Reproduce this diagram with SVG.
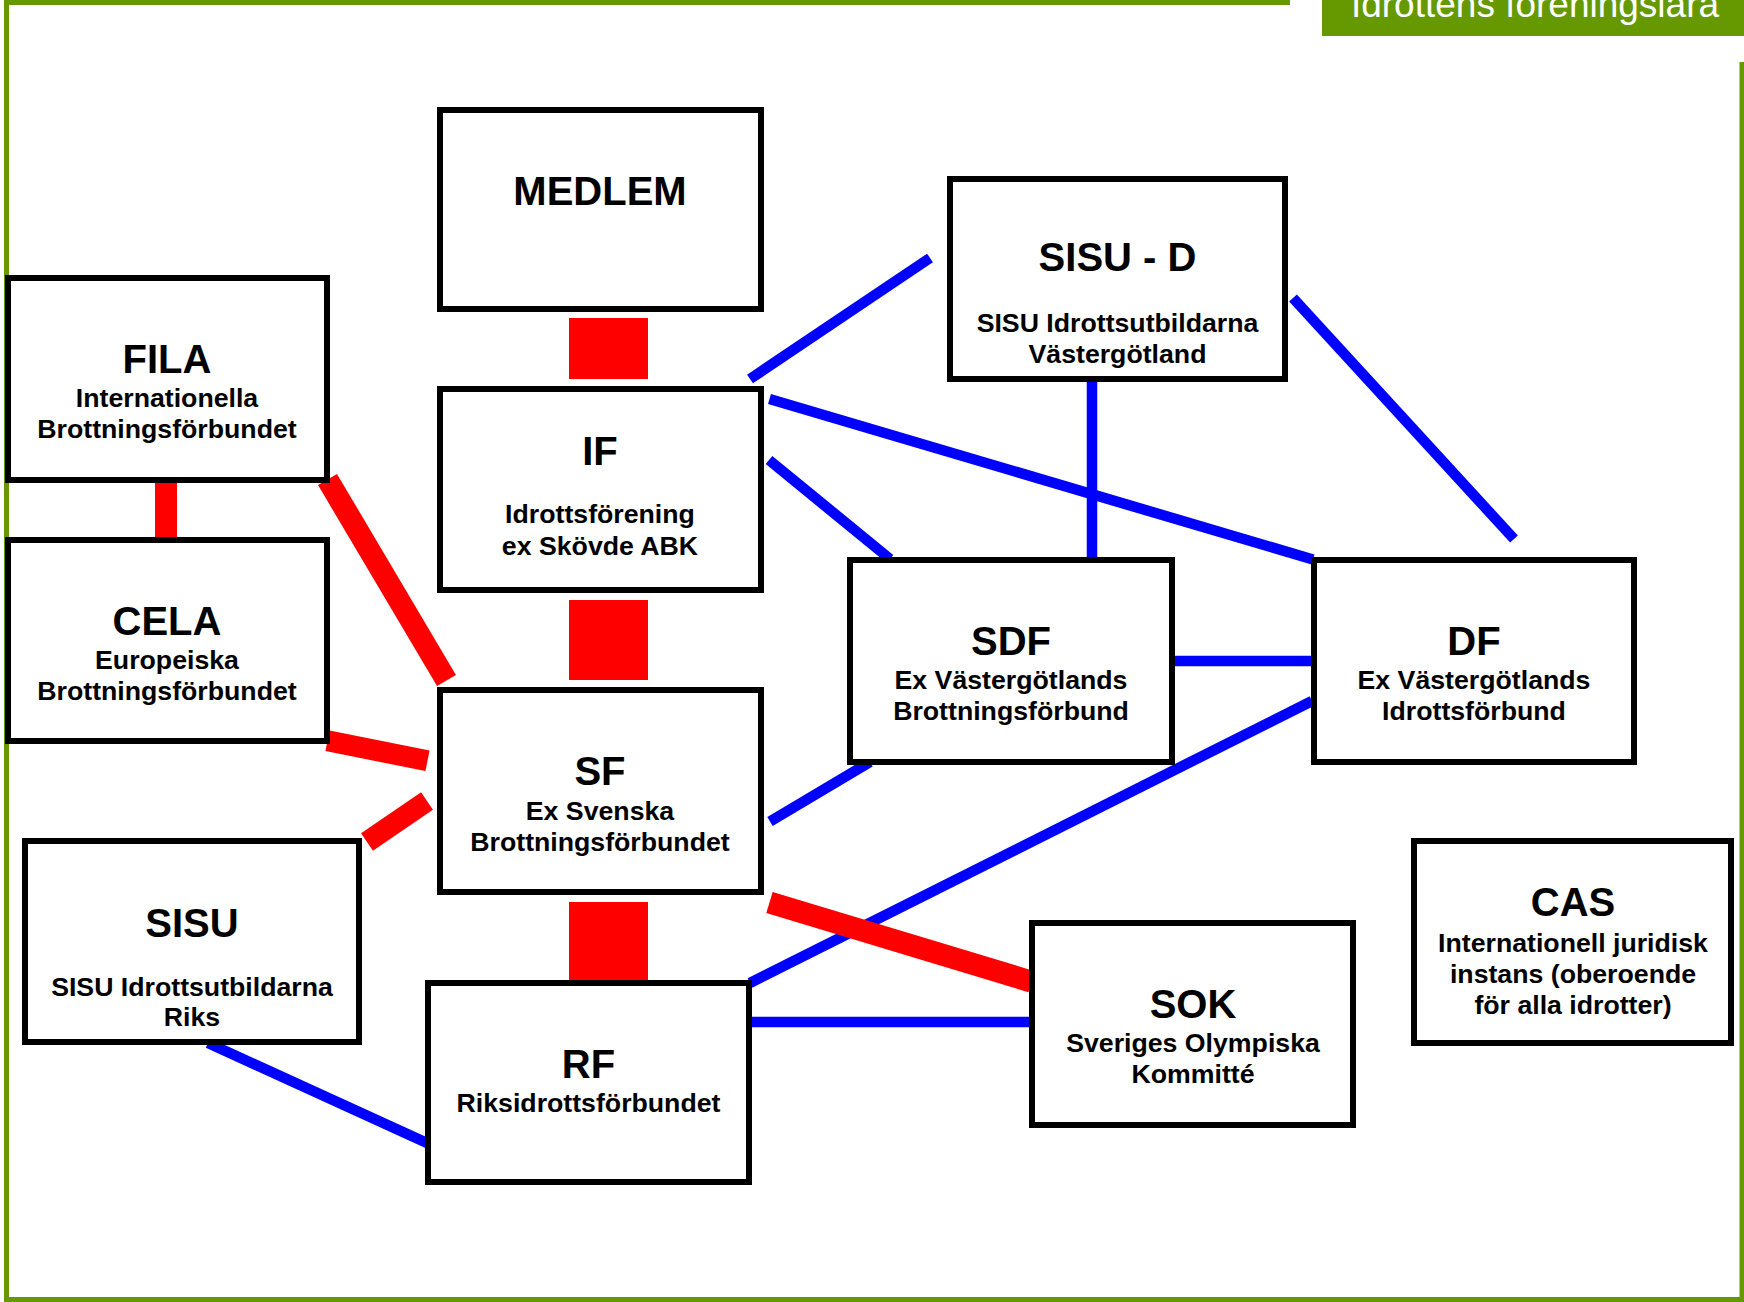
<svg xmlns="http://www.w3.org/2000/svg" width="1744" height="1302" viewBox="0 0 1744 1302">
<style>
.box{fill:#fff;stroke:#000;stroke-width:6}
.t{font-family:"Liberation Sans",Arial,sans-serif;font-weight:bold;font-size:40px;text-anchor:middle;fill:#000}
.s{font-family:"Liberation Sans",Arial,sans-serif;font-weight:bold;font-size:26.7px;text-anchor:middle;fill:#000}
.frame{stroke:#669900;stroke-width:5;fill:none}
.blue{stroke:#0000ff;stroke-width:10.5;fill:none}
.red{stroke:#ff0000;stroke-width:22;fill:none}
.redblk{fill:#ff0000}
</style>
<rect x="0" y="0" width="1744" height="1302" fill="#fff"/>
<g id="frame">
<line class="frame" x1="6.5" y1="0" x2="6.5" y2="1302"/>
<line class="frame" x1="4" y1="2.5" x2="1290" y2="2.5"/>
<line class="frame" x1="1742" y1="62" x2="1742" y2="1302"/>
<line class="frame" x1="4" y1="1299.5" x2="1744" y2="1299.5"/>
<rect x="1322" y="0" width="422" height="36" fill="#669900"/>
<text x="1535" y="17" font-family="Liberation Sans, Arial, sans-serif" font-size="37" fill="#fff" text-anchor="middle">Idrottens föreningslära</text>
</g>
<g id="connectors">
<line class="blue" x1="750" y1="379" x2="930" y2="258"/>
<line class="blue" x1="769.5" y1="399" x2="1313" y2="559.5"/>
<line class="blue" x1="769" y1="460" x2="890" y2="559"/>
<line class="blue" x1="1092" y1="380" x2="1092" y2="558"/>
<line class="blue" x1="1293" y1="298" x2="1514" y2="539"/>
<line class="blue" x1="1175" y1="661" x2="1311" y2="661"/>
<line class="blue" x1="770" y1="821.5" x2="870" y2="762"/>
<line class="blue" x1="750" y1="983" x2="1312" y2="701"/>
<line class="blue" x1="750" y1="1022" x2="1031" y2="1022"/>
<line class="blue" x1="208" y1="1043" x2="427" y2="1143"/>
<rect class="redblk" x="569" y="318" width="79" height="61"/>
<rect class="redblk" x="569" y="600" width="79" height="80"/>
<rect class="redblk" x="569" y="902" width="79" height="78"/>
<rect class="redblk" x="155" y="480" width="22" height="59"/>
<line class="red" x1="327.5" y1="479.5" x2="446.5" y2="680.5"/>
<line class="red" x1="327.5" y1="740.7" x2="427.5" y2="760.8" style="stroke-width:21"/>
<line class="red" x1="367" y1="842" x2="427" y2="801" style="stroke-width:21"/>
<line class="red" x1="769.5" y1="902.5" x2="1031.6" y2="981.7"/>
</g>
<g id="MEDLEM">
<rect class="box" x="440" y="110" width="321" height="199"/>
<text class="t" x="600" y="205">MEDLEM</text>
</g>
<g id="IF">
<rect class="box" x="440" y="389" width="321" height="201"/>
<text class="t" x="600" y="465">IF</text>
<text class="s" x="600" y="523">Idrottsförening</text>
<text class="s" x="600" y="555">ex Skövde ABK</text>
</g>
<g id="FILA">
<rect class="box" x="8" y="278" width="319" height="202"/>
<text class="t" x="167" y="373">FILA</text>
<text class="s" x="167" y="407">Internationella</text>
<text class="s" x="167" y="438">Brottningsförbundet</text>
</g>
<g id="CELA">
<rect class="box" x="8" y="540" width="319" height="201"/>
<text class="t" x="167" y="635">CELA</text>
<text class="s" x="167" y="669">Europeiska</text>
<text class="s" x="167" y="700">Brottningsförbundet</text>
</g>
<g id="SF">
<rect class="box" x="440" y="690" width="321" height="202"/>
<text class="t" x="600" y="785">SF</text>
<text class="s" x="600" y="820">Ex Svenska</text>
<text class="s" x="600" y="851">Brottningsförbundet</text>
</g>
<g id="SISU">
<rect class="box" x="25" y="841" width="334" height="201"/>
<text class="t" x="192" y="937">SISU</text>
<text class="s" x="192" y="996">SISU Idrottsutbildarna</text>
<text class="s" x="192" y="1026">Riks</text>
</g>
<g id="RF">
<rect class="box" x="428" y="983" width="321" height="199"/>
<text class="t" x="588.5" y="1078">RF</text>
<text class="s" x="588.5" y="1112">Riksidrottsförbundet</text>
</g>
<g id="SISU-D">
<rect class="box" x="950" y="179" width="335" height="200"/>
<text class="t" x="1117.5" y="271">SISU - D</text>
<text class="s" x="1117.5" y="332">SISU Idrottsutbildarna</text>
<text class="s" x="1117.5" y="363">Västergötland</text>
</g>
<g id="SDF">
<rect class="box" x="850" y="560" width="322" height="202"/>
<text class="t" x="1011" y="655">SDF</text>
<text class="s" x="1011" y="689">Ex Västergötlands</text>
<text class="s" x="1011" y="720">Brottningsförbund</text>
</g>
<g id="DF">
<rect class="box" x="1314" y="560" width="320" height="202"/>
<text class="t" x="1474" y="655">DF</text>
<text class="s" x="1474" y="689">Ex Västergötlands</text>
<text class="s" x="1474" y="720">Idrottsförbund</text>
</g>
<g id="SOK">
<rect class="box" x="1032" y="923" width="321" height="202"/>
<text class="t" x="1193" y="1018">SOK</text>
<text class="s" x="1193" y="1052">Sveriges Olympiska</text>
<text class="s" x="1193" y="1083">Kommitté</text>
</g>
<g id="CAS">
<rect class="box" x="1414" y="841" width="317" height="202"/>
<text class="t" x="1573" y="916">CAS</text>
<text class="s" x="1573" y="952">Internationell juridisk</text>
<text class="s" x="1573" y="983">instans (oberoende</text>
<text class="s" x="1573" y="1014">för alla idrotter)</text>
</g>
</svg>
